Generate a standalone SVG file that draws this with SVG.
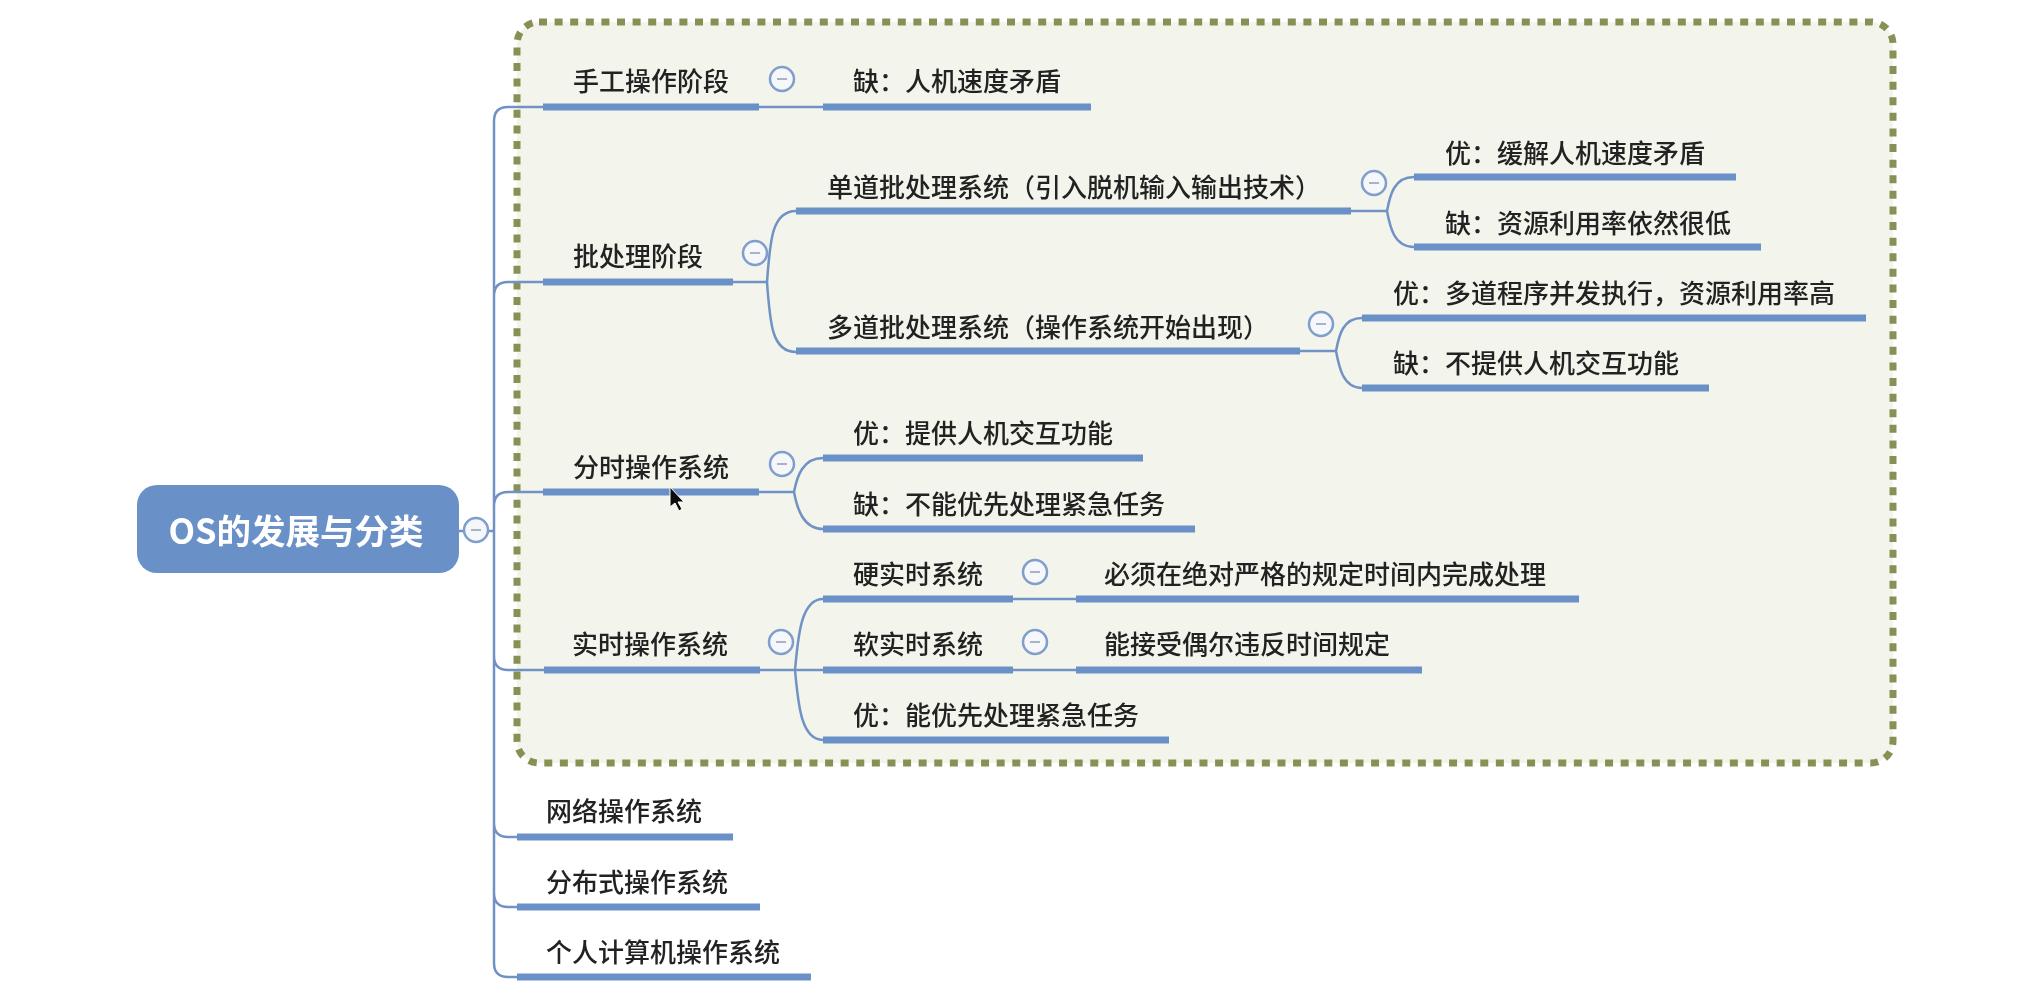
<svg xmlns="http://www.w3.org/2000/svg" width="2032" height="996" viewBox="0 0 2032 996">
<defs><style>
text{font-family:"Noto Sans CJK SC","Liberation Sans",sans-serif;font-size:26px;fill:#222;font-weight:500}
.c{fill:none;stroke:#6f92c5;stroke-width:2.5}
.u{fill:none;stroke:#6a90c8;stroke-width:7}
.t circle{fill:#f5f7fb;stroke:#7f9ecb;stroke-width:2.5}
.t line{stroke:#a9b3c6;stroke-width:2}
</style>
<filter id="soft" x="0" y="0" width="100%" height="100%" filterUnits="userSpaceOnUse"><feGaussianBlur stdDeviation="0.55"/></filter>
</defs>
<rect width="2032" height="996" fill="#fff"/>
<g filter="url(#soft)">
<rect id="boundary" x="517" y="22" width="1376" height="741" rx="22" fill="#f3f5ec" stroke="#8a8f55" stroke-width="7" stroke-dasharray="8 7.6"/>
<g id="connectors">
<path class="c" d="M459 531H494M543 107H508Q494 107 494 121V963Q494 977 508 977H517M494 296Q494 282 508 282H543M494 506Q494 492 508 492H543M494 656Q494 670 508 670H544M494 823Q494 837 508 837H517M494 893Q494 907 508 907H517"/>
<path class="c" d="M759 107H823M733 282H767M767 282C770 240 772 211 796 211M767 282C770 324 772 352 796 352M1351 211H1387M1387 211C1390 195 1394 177 1414 177M1387 211C1390 227 1394 247 1414 247M1300 351H1336M1336 351C1339 335 1343 318 1362 318M1336 351C1339 367 1343 388 1362 388M759 492H794M794 492C797 476 803 458 823 458M794 492C797 508 803 529 823 529M760 670H823M795 670C798 640 800 599 823 599M795 670C798 700 800 740 823 740M1013 599H1076M1013 670H1076"/>
</g>
<g id="root"><rect x="137" y="485" width="322" height="88" rx="20" fill="#6a90c8"/><text x="296" y="544" text-anchor="middle" style="font-size:34.5px;font-weight:700;fill:#fff">OS的发展与分类</text></g>
<g class="t" id="toggles">
<g><circle cx="476" cy="530" r="12"/><line x1="471" y1="530" x2="481" y2="530"/></g>
<g><circle cx="782" cy="79" r="12"/><line x1="777" y1="79" x2="787" y2="79"/></g>
<g><circle cx="755" cy="253" r="12"/><line x1="750" y1="253" x2="760" y2="253"/></g>
<g><circle cx="1374" cy="183" r="12"/><line x1="1369" y1="183" x2="1379" y2="183"/></g>
<g><circle cx="1321" cy="324" r="12"/><line x1="1316" y1="324" x2="1326" y2="324"/></g>
<g><circle cx="782" cy="464" r="12"/><line x1="777" y1="464" x2="787" y2="464"/></g>
<g><circle cx="781" cy="642" r="12"/><line x1="776" y1="642" x2="786" y2="642"/></g>
<g><circle cx="1035" cy="572" r="12"/><line x1="1030" y1="572" x2="1040" y2="572"/></g>
<g><circle cx="1035" cy="642" r="12"/><line x1="1030" y1="642" x2="1040" y2="642"/></g>
</g>
<g id="n1"><path class="u" d="M543 107H759"/><text x="573" y="91">手工操作阶段</text></g>
<g id="n2"><path class="u" d="M823 107H1091"/><text x="853" y="91">缺：人机速度矛盾</text></g>
<g id="n3"><path class="u" d="M543 282H733"/><text x="573" y="266">批处理阶段</text></g>
<g id="n4"><path class="u" d="M796 211H1351"/><text x="827" y="197">单道批处理系统（引入脱机输入输出技术）</text></g>
<g id="n5"><path class="u" d="M1414 177H1736"/><text x="1445" y="163">优：缓解人机速度矛盾</text></g>
<g id="n6"><path class="u" d="M1414 247H1761"/><text x="1445" y="233">缺：资源利用率依然很低</text></g>
<g id="n7"><path class="u" d="M796 351H1300"/><text x="827" y="337">多道批处理系统（操作系统开始出现）</text></g>
<g id="n8"><path class="u" d="M1362 318H1866"/><text x="1393" y="303">优：多道程序并发执行，资源利用率高</text></g>
<g id="n9"><path class="u" d="M1362 388H1709"/><text x="1393" y="373">缺：不提供人机交互功能</text></g>
<g id="n10"><path class="u" d="M543 492H759"/><text x="573" y="477">分时操作系统</text></g>
<g id="n11"><path class="u" d="M823 458H1143"/><text x="853" y="443">优：提供人机交互功能</text></g>
<g id="n12"><path class="u" d="M823 529H1195"/><text x="853" y="514">缺：不能优先处理紧急任务</text></g>
<g id="n13"><path class="u" d="M544 670H760"/><text x="572" y="654">实时操作系统</text></g>
<g id="n14"><path class="u" d="M823 599H1013"/><text x="853" y="584">硬实时系统</text></g>
<g id="n15"><path class="u" d="M1076 599H1579"/><text x="1104" y="584">必须在绝对严格的规定时间内完成处理</text></g>
<g id="n16"><path class="u" d="M823 670H1013"/><text x="853" y="654">软实时系统</text></g>
<g id="n17"><path class="u" d="M1076 670H1422"/><text x="1104" y="654">能接受偶尔违反时间规定</text></g>
<g id="n18"><path class="u" d="M823 740H1169"/><text x="853" y="725">优：能优先处理紧急任务</text></g>
<g id="n19"><path class="u" d="M517 837H733"/><text x="546" y="821">网络操作系统</text></g>
<g id="n20"><path class="u" d="M517 907H760"/><text x="546" y="892">分布式操作系统</text></g>
<g id="n21"><path class="u" d="M517 977H811"/><text x="546" y="962">个人计算机操作系统</text></g>
<path id="cursor" d="M670 487V507L675 503L679 511L682 509L678 502H684Z" fill="#111" stroke="#fff" stroke-width="1"/>
</g>
</svg>
